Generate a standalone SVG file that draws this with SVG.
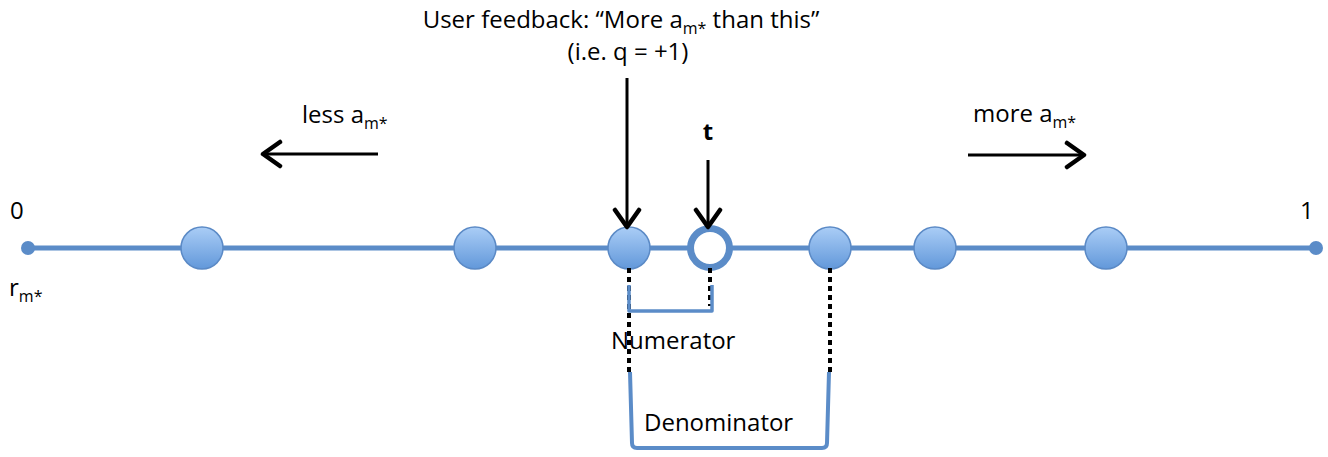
<svg xmlns="http://www.w3.org/2000/svg" width="1328" height="457" viewBox="0 0 1328 457">
  <style>
    text { font-family: "Open Sans", "Liberation Sans", sans-serif; font-size: 24px; fill: #000; }
    .sub { font-size: 16px; }
    .axis { stroke: #5b8cc8; stroke-width: 5; fill: none; }
    .dot { fill: url(#ball); stroke: #5b8ac6; stroke-width: 1.5; }
    .ptr { stroke: #000; stroke-width: 3; fill: none; }
    .dash { stroke: #000; stroke-width: 4; stroke-dasharray: 5 4; fill: none; }
    .brace { stroke: #5b8cc8; fill: none; stroke-linejoin: round; }
  </style>
  <defs>
    <linearGradient id="ball" x1="0" y1="0" x2="0" y2="1">
      <stop offset="0" stop-color="#aacdf6"/>
      <stop offset="1" stop-color="#6298da"/>
    </linearGradient>
    <marker id="head" viewBox="0 0 24 30" refX="21" refY="15" markerWidth="24" markerHeight="30" markerUnits="userSpaceOnUse" orient="auto">
      <path d="M4 3 L21 15 L4 27" stroke="#000" stroke-width="4.5" fill="none" stroke-linecap="round" stroke-linejoin="round"/>
    </marker>
  </defs>

  <!-- axis -->
  <g id="axis">
    <line class="axis" x1="28" y1="248" x2="1316" y2="248"/>
    <circle cx="28" cy="248" r="7" fill="#5b8cc8"/>
    <circle cx="1316" cy="248" r="7" fill="#5b8cc8"/>
    <text x="10" y="219">0</text>
    <text x="1300" y="219">1</text>
    <text x="9" y="296">r<tspan class="sub" dy="6">m*</tspan></text>
  </g>

  <!-- sample points -->
  <g id="p1"><circle class="dot" cx="202" cy="248" r="21"/></g>
  <g id="p2"><circle class="dot" cx="475" cy="248" r="21"/></g>
  <g id="p3"><circle class="dot" cx="629" cy="248" r="21"/></g>
  <g id="threshold"><circle cx="710" cy="248" r="19.5" fill="#fff" stroke="#5b8cc8" stroke-width="7"/></g>
  <g id="p4"><circle class="dot" cx="830" cy="248" r="21"/></g>
  <g id="p5"><circle class="dot" cx="935" cy="248" r="21"/></g>
  <g id="p6"><circle class="dot" cx="1106" cy="248" r="21"/></g>

  <!-- labels -->
  <g id="feedback">
    <text x="621" y="28" text-anchor="middle">User feedback: “More a<tspan class="sub" dy="6">m*</tspan><tspan dy="-6"> than this”</tspan></text>
    <text x="628" y="60" text-anchor="middle">(i.e. q = +1)</text>
  </g>
  <g id="t-label"><text x="708" y="140" text-anchor="middle" font-weight="bold">t</text></g>
  <g id="less"><text x="302" y="123">less a<tspan class="sub" dy="6">m*</tspan></text></g>
  <g id="more"><text x="973" y="122">more a<tspan class="sub" dy="6">m*</tspan></text></g>
  <g id="numerator"><text x="611" y="349">Numerator</text></g>
  <g id="denominator"><text x="644" y="431">Denominator</text></g>

  <!-- connectors -->
  <g id="connectors">
    <line class="ptr" x1="627" y1="78" x2="627" y2="227" marker-end="url(#head)"/>
    <line class="ptr" x1="708" y1="160" x2="708" y2="227" marker-end="url(#head)"/>
    <line class="ptr" x1="378" y1="154" x2="263" y2="154" marker-end="url(#head)"/>
    <line class="ptr" x1="968" y1="155" x2="1084" y2="155" marker-end="url(#head)"/>

    <line class="dash" x1="629" y1="268" x2="629" y2="372"/>
    <line class="dash" x1="710" y1="268" x2="710" y2="306"/>
    <line class="dash" x1="830" y1="268" x2="830" y2="372"/>

    <path class="brace" stroke-width="3.5" d="M629 285 V311 H712 V285"/>
    <path class="brace" stroke-width="4" d="M630 372 L632 443 Q632 448 637 448 H822 Q827 448 827 443 L829 372"/>
  </g>
</svg>
